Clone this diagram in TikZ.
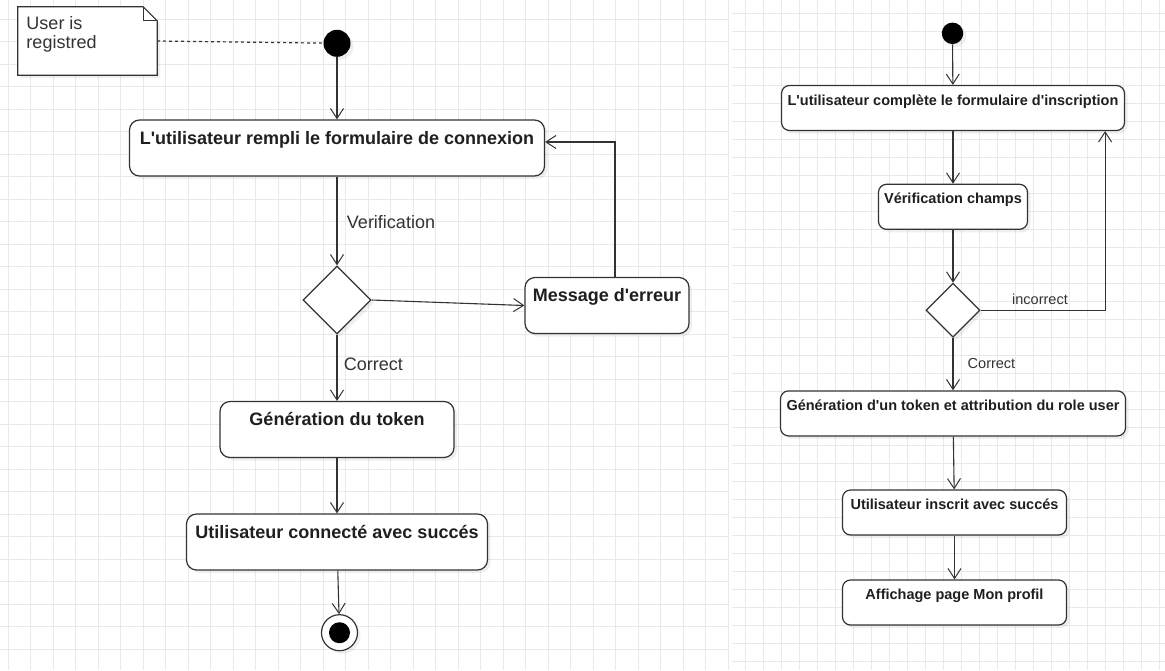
\documentclass[tikz,border=0pt]{standalone}
\usepackage{fontspec}
\setmainfont{Liberation Sans}[Ligatures=TeXOff]
\usepackage{tikz}
\usetikzlibrary{arrows.meta, positioning, calc, shapes.geometric, shadows}

\definecolor{gridc}{HTML}{E9E9E9}
\definecolor{ink}{HTML}{333333}

\begin{document}
\begin{tikzpicture}[
    x=1pt, y=-1pt,
    >={Straight Barb[length=10pt, width=13pt, line width=1pt]},
    flow/.style={->, draw=ink, line width=1.1pt},
    shade/.style={drop shadow={shadow xshift=3pt, shadow yshift=-3pt, opacity=0.12}},
    act/.style={draw=ink, line width=1.2pt, fill=white, rounded corners=10pt, inner sep=0pt,
        font=\fontsize{18}{21}\selectfont\bfseries, text=black!88,
        text height=24pt, text depth=32pt, shade},
    actR/.style={act, rounded corners=8pt, font=\fontsize{14.5}{17}\selectfont\bfseries,
        text height=19.5pt, text depth=25.5pt},
    dec/.style={diamond, draw=ink, line width=1.2pt, fill=white, inner sep=0pt, shade},
    init/.style={circle, fill=black, inner sep=0pt, shade},
    final/.style={circle, draw=ink, line width=1.2pt, fill=white, inner sep=0pt, minimum size=36pt, shade,
        path picture={\fill[black] (path picture bounding box.center) circle (10.5pt);}},
    lbl/.style={font=\fontsize{18}{19}\selectfont, text=black!80, inner sep=0pt},
    lblR/.style={font=\fontsize{14.5}{17}\selectfont, text=black!80, inner sep=0pt},
]
\useasboundingbox (0,0) rectangle (1165,670);
\fill[white] (0,0) rectangle (1165,670);
% === Grids ===
\begin{scope}
\clip (0,0) rectangle (729,670);
\foreach \x in {8.3, 30.8, ..., 729} \draw[gridc, line width=1.1pt] (\x,0) -- (\x,670);
\foreach \y in {19.3, 41.8, ..., 670} \draw[gridc, line width=1.1pt] (0,\y) -- (729,\y);
\end{scope}
\begin{scope}
\clip (732,0) rectangle (1165,670);
\foreach \x in {745, 763, ..., 1165} \draw[gridc, line width=1pt] (\x,0) -- (\x,670);
\foreach \y in {13.7, 31.7, ..., 670} \draw[gridc, line width=1pt] (732,\y) -- (1165,\y);
\end{scope}
% === Left: connexion ===
\node[minimum width=139pt, minimum height=68pt, inner sep=0pt] (note) at (87.5, 41) {};
\draw[ink, line width=1.2pt, fill=white, shade] (note.north west) -- ([xshift=-14pt]note.north east)
    -- ([yshift=-14pt]note.north east) -- (note.south east) -- (note.south west) -- cycle;
\draw[ink, line width=1.2pt] ([xshift=-14pt]note.north east) -- ([xshift=-14pt, yshift=-14pt]note.north east)
    -- ([yshift=-14pt]note.north east);
\node[lbl, anchor=north west, align=left] (notetxt) at ($(note.north west)+(8.5,9.3)$) {User is\\registred};
\node[init, minimum size=27pt] (start1) at (337, 43.3) {};
\node[act, minimum width=415pt] (box1) at (337, 148) {L'utilisateur rempli le formulaire de connexion};
\node[dec, minimum width=68pt, minimum height=68pt] (dec1) at (337, 300) {};
\node[act, minimum width=164pt] (msg) at (607, 305.5) {Message d'erreur};
\node[act, minimum width=234pt] (gen) at (337, 429.5) {Génération du token};
\node[act, minimum width=301pt] (ok) at (337, 542) {Utilisateur connecté avec succés};
\node[final] (stop) at (339.5, 632.7) {};
\node[lbl] (verif) at (391, 222.5) {Verification};
\node[lbl] (corr1) at (373.3, 364) {Correct};
% connectors
\draw[ink, line width=1.2pt, dash pattern=on 3pt off 3pt] (note.east) -- (start1);
\draw[flow] (start1) -- (box1);
\draw[flow] (box1) -- (dec1);
\draw[flow] (dec1.east) -- (msg.west);
\draw[flow] ([xshift=8pt]msg.north) |- ([yshift=6pt]box1.east);
\draw[flow] (dec1) -- (gen);
\draw[flow] (gen) -- (ok);
\draw[flow] (ok) -- (stop);
% === Right: inscription ===
\node[init, minimum size=21.5pt] (start2) at (952.5, 33.3) {};
\node[actR, minimum width=343pt] (r1) at (953, 108) {L'utilisateur complète le formulaire d'inscription};
\node[actR, minimum width=149pt] (r2) at (953, 206.8) {Vérification champs};
\node[dec, minimum width=54pt, minimum height=54pt] (dec2) at (953, 310.3) {};
\node[actR, minimum width=345pt] (r3) at (953, 413.4) {Génération d'un token et attribution du role user};
\node[actR, minimum width=224pt] (r4) at (954.5, 512.5) {Utilisateur inscrit avec succés};
\node[actR, minimum width=224pt] (r5) at (954.5, 602.5) {Affichage page Mon profil};
\node[lblR] (incorr) at (1040, 299) {incorrect};
\node[lblR] (corr2) at (991.5, 363.3) {Correct};
% connectors
\draw[flow] (start2) -- (r1);
\draw[flow] (r1) -- (r2);
\draw[flow] (r2) -- (dec2);
\draw[flow] (dec2.east) -| ([xshift=-20pt]r1.south east);
\draw[flow] (dec2) -- (r3);
\draw[flow] (r3) -- (r4);
\draw[flow] (r4) -- (r5);
\end{tikzpicture}
\end{document}
